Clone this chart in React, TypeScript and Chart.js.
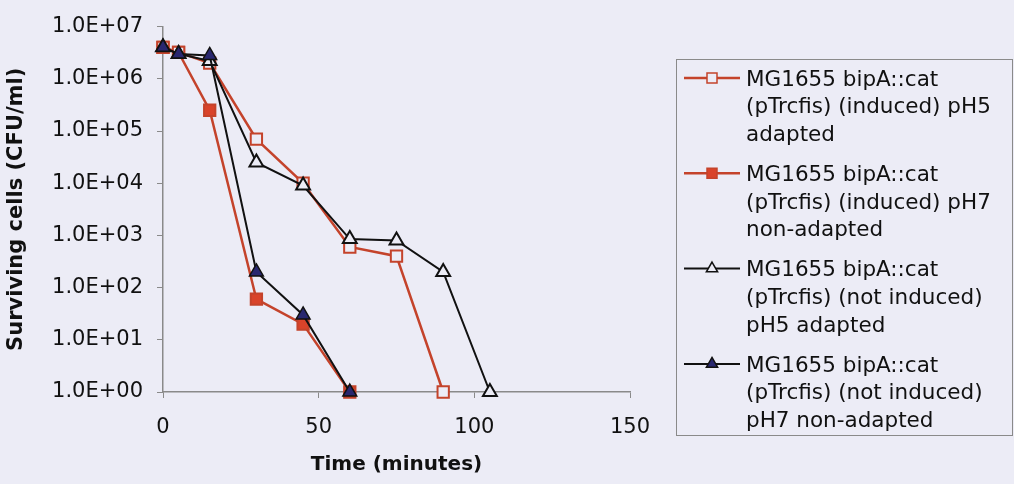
import { useEffect, useRef } from 'react';
import { Chart, registerables } from 'chart.js';

Chart.register(...registerables);

// ---- data ----
const timesInducedPH5 = [0, 5, 15, 30, 45, 60, 75, 90];
const cfuInducedPH5 = [4.0e6, 3.2e6, 2.0e6, 7.0e4, 1.0e4, 6.0e2, 4.0e2, 1];

const timesInducedPH7 = [0, 5, 15, 30, 45, 60];
const cfuInducedPH7 = [4.0e6, 3.2e6, 2.5e5, 60, 20, 1];

const timesNotInducedPH5 = [0, 5, 15, 30, 45, 60, 75, 90, 105];
const cfuNotInducedPH5 = [4.0e6, 3.0e6, 2.2e6, 2.5e4, 9.0e3, 8.5e2, 8.0e2, 2.0e2, 1];

const timesNotInducedPH7 = [0, 5, 15, 30, 45, 60];
const cfuNotInducedPH7 = [4.0e6, 3.0e6, 2.8e6, 2.0e2, 30, 1];

const seriesLabels = [
  ['MG1655 bipA::cat', '(pTrcfis) (induced) pH5', 'adapted'],
  ['MG1655 bipA::cat', '(pTrcfis) (induced) pH7', 'non-adapted'],
  ['MG1655 bipA::cat', '(pTrcfis) (not induced)', 'pH5 adapted'],
  ['MG1655 bipA::cat', '(pTrcfis) (not induced)', 'pH7 non-adapted'],
];

const xTickValues = [0, 50, 100, 150];
const yTickValues = [1, 10, 100, 1e3, 1e4, 1e5, 1e6, 1e7];

const xTitle = 'Time (minutes)';
const yTitle = 'Surviving cells (CFU/ml)';

// ---- styles ----
const BG = '#ececf6';
const RED = '#c4432b';
const RED_FILL = '#d9432a';
const BLACK = '#111111';
const NAVY = '#29276f';
const FONT = '"DejaVu Sans", sans-serif';

const toPoints = (xs: number[], ys: number[]) => xs.map((x, i) => ({ x, y: ys[i] }));

export default function App() {
  const canvasRef = useRef<HTMLCanvasElement | null>(null);

  useEffect(() => {
    if (!canvasRef.current) return;

    const legendPlugin = {
      id: 'customLegend',
      afterDraw(chart: any) {
        const ctx = chart.ctx as CanvasRenderingContext2D;
        ctx.save();
        // box
        ctx.strokeStyle = '#8a8a8a';
        ctx.lineWidth = 1;
        ctx.strokeRect(676.5, 59.5, 336, 376);
        const entryGap = 95.3;
        const lineGap = 27.6;
        const fontSize = 21.5;
        ctx.font = `${fontSize}px ${FONT}`;
        ctx.textAlign = 'left';
        ctx.textBaseline = 'alphabetic';
        chart.data.datasets.forEach((ds: any, i: number) => {
          const y0 = 78 + entryGap * i;
          // line
          ctx.strokeStyle = ds.borderColor;
          ctx.lineWidth = ds.borderWidth;
          ctx.beginPath();
          ctx.moveTo(684, y0);
          ctx.lineTo(740, y0);
          ctx.stroke();
          // marker
          const cx = 712;
          ctx.fillStyle = ds.pointBackgroundColor;
          ctx.strokeStyle = ds.pointBorderColor;
          ctx.lineWidth = 1.5;
          ctx.beginPath();
          if (ds.pointStyle === 'rect') {
            const s = 5;
            ctx.rect(cx - s, y0 - s, 2 * s, 2 * s);
          } else {
            const r = 6.5;
            ctx.moveTo(cx, y0 - r);
            ctx.lineTo(cx + r * 0.866, y0 + r * 0.5);
            ctx.lineTo(cx - r * 0.866, y0 + r * 0.5);
            ctx.closePath();
          }
          ctx.fill();
          ctx.stroke();
          // text
          ctx.fillStyle = '#111';
          seriesLabels[i].forEach((line, j) => {
            ctx.fillText(line, 746, y0 + j * lineGap + 7.8);
          });
        });
        ctx.restore();
      },
    };

    const chart = new Chart(canvasRef.current, {
      type: 'line',
      data: {
        datasets: [
          {
            label: seriesLabels[0].join(' '),
            data: toPoints(timesInducedPH5, cfuInducedPH5),
            borderColor: RED,
            borderWidth: 2.5,
            pointStyle: 'rect',
            pointRadius: 8,
            pointBorderWidth: 2,
            pointBorderColor: RED,
            pointBackgroundColor: BG,
            order: 2,
          },
          {
            label: seriesLabels[1].join(' '),
            data: toPoints(timesInducedPH7, cfuInducedPH7),
            borderColor: RED,
            borderWidth: 2.5,
            pointStyle: 'rect',
            pointRadius: 8,
            pointBorderWidth: 2,
            pointBorderColor: RED,
            pointBackgroundColor: RED_FILL,
            order: 3,
          },
          {
            label: seriesLabels[2].join(' '),
            data: toPoints(timesNotInducedPH5, cfuNotInducedPH5),
            borderColor: BLACK,
            borderWidth: 2,
            pointStyle: 'triangle',
            pointRadius: 8,
            pointBorderWidth: 2,
            pointBorderColor: BLACK,
            pointBackgroundColor: BG,
            order: 1,
          },
          {
            label: seriesLabels[3].join(' '),
            data: toPoints(timesNotInducedPH7, cfuNotInducedPH7),
            borderColor: BLACK,
            borderWidth: 2,
            pointStyle: 'triangle',
            pointRadius: 8,
            pointBorderWidth: 1.5,
            pointBorderColor: BLACK,
            pointBackgroundColor: NAVY,
            order: 0,
          },
        ] as any,
      },
      options: {
        animation: false,
        responsive: true,
        maintainAspectRatio: false,
        clip: false as any,
        layout: { padding: { left: 0, top: 22, right: 384, bottom: 0 } },
        plugins: {
          legend: { display: false },
          tooltip: { enabled: false },
        },
        elements: { line: { tension: 0 } },
        scales: {
          x: {
            type: 'linear',
            min: 0,
            max: 150,
            afterFit: (scale: any) => {
              scale.height = 92;
            },
            afterBuildTicks: (scale: any) => {
              scale.ticks = xTickValues.map((v) => ({ value: v }));
            },
            ticks: {
              autoSkip: false,
              maxRotation: 0,
              padding: 17,
              color: '#111',
              font: { family: FONT, size: 21 },
            },
            grid: { drawOnChartArea: false, drawTicks: true, tickLength: 6, color: '#8a8a8a' },
            border: { display: true, color: '#8a8a8a', width: 1.5 },
            title: {
              display: true,
              text: xTitle,
              color: '#111',
              font: { family: FONT, size: 20, weight: 'bold' },
              padding: { top: 0, bottom: 7 },
            },
          },
          y: {
            type: 'logarithmic',
            min: 1,
            max: 1e7,
            afterFit: (scale: any) => {
              scale.width = 163;
            },
            afterBuildTicks: (scale: any) => {
              scale.ticks = yTickValues.map((v) => ({ value: v }));
            },
            ticks: {
              autoSkip: false,
              padding: 14,
              color: '#111',
              font: { family: FONT, size: 21 },
              callback: (value: any) => {
                const e = Math.round(Math.log10(Number(value)));
                return '1.0E+' + String(e).padStart(2, '0');
              },
            },
            grid: { drawOnChartArea: false, drawTicks: true, tickLength: 6, color: '#8a8a8a' },
            border: { display: true, color: '#8a8a8a', width: 1.5 },
            title: {
              display: true,
              text: yTitle,
              color: '#111',
              font: { family: FONT, size: 21, weight: 'bold' },
              padding: { top: 4, bottom: 0 },
            },
          },
        },
      } as any,
      plugins: [legendPlugin],
    });

    return () => chart.destroy();
  }, []);

  return (
    <div
      style={{
        position: 'fixed',
        left: 0,
        top: 0,
        width: 1014,
        height: 484,
        background: BG,
      }}
    >
      <canvas ref={canvasRef} />
    </div>
  );
}
